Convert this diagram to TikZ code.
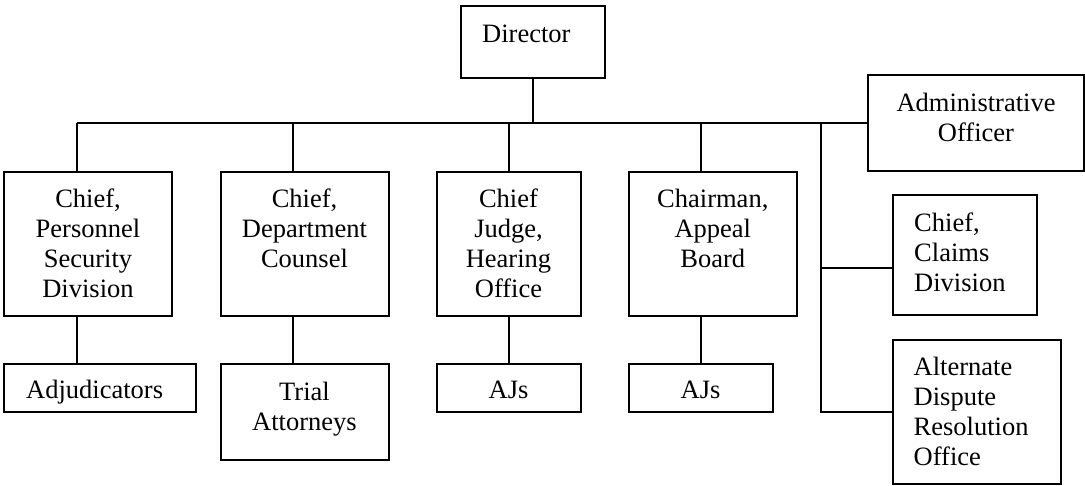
\documentclass[tikz,border=0pt]{standalone}
\usepackage{fontspec}
\setmainfont{Liberation Serif}
\usetikzlibrary{calc}
\begin{document}
\begin{tikzpicture}[x=1pt,y=-1pt,
  box/.style={draw, line width=2pt, inner sep=0pt, outer sep=0pt, anchor=north west},
  wire/.style={line width=2pt},
  lbl/.style={inner sep=0pt, font=\fontsize{26.5}{30}\selectfont, align=center, anchor=north},
  lbll/.style={lbl, align=left, anchor=north west}]
\useasboundingbox (0,0) rectangle (1085,485);

% boxes (top-left corner, size)
\node[box, minimum width=144pt, minimum height=72pt]  (dir)    at (460.5,6)     {};
\node[box, minimum width=216pt, minimum height=96pt]  (admin)  at (868,75)      {};
\node[box, minimum width=168pt, minimum height=144pt] (b1)     at (4,171.5)     {};
\node[box, minimum width=168pt, minimum height=144pt] (b2)     at (220.5,171.5) {};
\node[box, minimum width=144pt, minimum height=144pt] (b3)     at (436.5,171.5) {};
\node[box, minimum width=168pt, minimum height=144pt] (b4)     at (628.8,171.5) {};
\node[box, minimum width=144pt, minimum height=120pt] (claims) at (892.5,195)   {};
\node[box, minimum width=168pt, minimum height=144pt] (adr)    at (892.5,339.5) {};
\node[box, minimum width=192pt, minimum height=48pt]  (adj)    at (4,363.5)     {};
\node[box, minimum width=168pt, minimum height=96pt]  (trial)  at (220.5,363.5) {};
\node[box, minimum width=144pt, minimum height=48pt]  (aj3)    at (436.5,363.5) {};
\node[box, minimum width=144pt, minimum height=48pt]  (aj4)    at (628.6,363.5) {};

% labels
\node[lbll] (tdir) at ($(dir.north west)+(21.5,15.5)$) {\strut Director};
\node[lbl] (tadmin) at ($(admin.north)+(0,15.5)$) {\strut Administrative\\Officer};
\node[lbl] (tb1) at ($(b1.north)+(0,15)$) {\strut Chief,\\Personnel\\Security\\Division};
\node[lbl] (tb2) at ($(b2.north)+(0,15)$) {\strut Chief,\\Department\\Counsel};
\node[lbl] (tb3) at ($(b3.north)+(0,15)$) {\strut Chief\\Judge,\\Hearing\\Office};
\node[lbl] (tb4) at ($(b4.north)+(0,15)$) {\strut Chairman,\\Appeal\\Board};
\node[lbll] (tclaims) at ($(claims.north west)+(21.5,15.5)$) {\strut Chief,\\Claims\\Division};
\node[lbll] (tadr) at ($(adr.north west)+(21,14.5)$) {\strut Alternate\\Dispute\\Resolution\\Office};
\node[lbll] (tadj) at ($(adj.north west)+(22,14)$) {\strut Adjudicators};
\node[lbl] (ttrial) at ($(trial.north)+(0,15.5)$) {\strut Trial\\Attorneys};
\node[lbl] (taj3) at ($(aj3.north)+(0,14)$) {\strut AJs};
\node[lbl] (taj4) at ($(aj4.north)+(0,14)$) {\strut AJs};

% junctions on the bus line
\coordinate (j1) at (76.5,123);
\coordinate (j2) at (292.5,123);
\coordinate (j3) at (508.5,123);
\coordinate (j4) at (700.8,123);
\coordinate (js) at (820.7,123);
\coordinate (jc) at (820.7,267.7);

% connectors
\draw[wire] (dir.south) -- (dir.south |- j1);
\draw[wire] (j1) -- (admin.west);
\draw[wire] (j1) -- (j1 |- b1.north);
\draw[wire] (j2) -- (j2 |- b2.north);
\draw[wire] (j3) -- (j3 |- b3.north);
\draw[wire] (j4) -- (j4 |- b4.north);
\draw[wire] (j1 |- b1.south) -- (j1 |- adj.north);
\draw[wire] (j2 |- b2.south) -- (j2 |- trial.north);
\draw[wire] (j3 |- b3.south) -- (j3 |- aj3.north);
\draw[wire] (j4 |- b4.south) -- (j4 |- aj4.north);
\draw[wire] (js) -- (js |- adr.west) -- (adr.west);
\draw[wire] (jc) -- (jc -| claims.west);
\end{tikzpicture}
\end{document}
